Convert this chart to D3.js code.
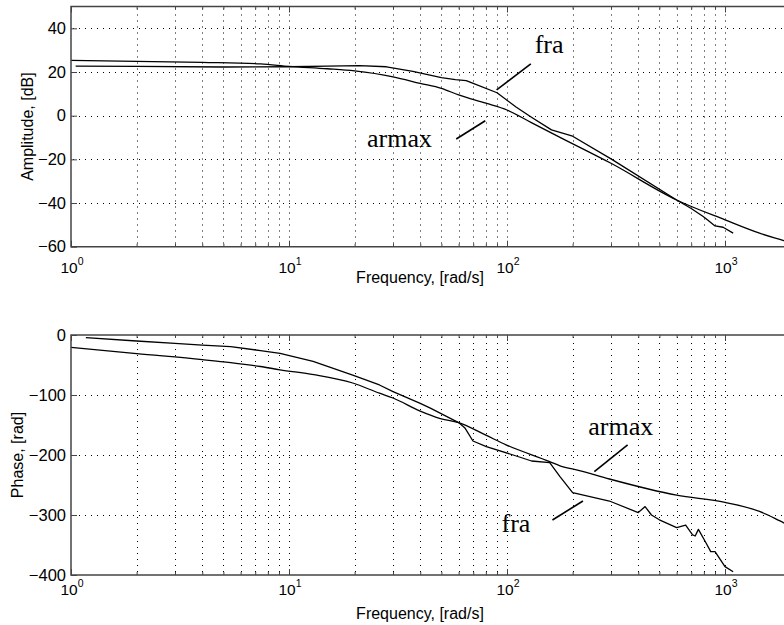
<!DOCTYPE html>
<html>
<head>
<meta charset="utf-8">
<script src="https://cdn.jsdelivr.net/npm/d3@7"></script>
<style>
  body { margin: 0; background: #fff; overflow: hidden; }
  svg { display: block; }
</style>
</head>
<body>
<svg id="chart"></svg>
<script>
// Amplitude panel, values in dB
const ampArmaxFreq = [1, 2, 4, 7.4, 10, 15, 20, 30, 40, 50, 60, 80, 100, 130, 175, 300, 600, 1000, 1440, 1860, 2200];
const ampArmax     = [25.3, 24.9, 24.4, 23.7, 22.6, 21.5, 20.5, 17.8, 14.8, 12.5, 9.5, 5.7, 2.6, -3.3, -9.9, -21.8, -38.6, -47.7, -53.8, -57.2, -59.5];
const ampFraFreq = [1.05, 2, 5, 10, 15, 21, 28, 37, 50, 58, 65, 70, 90, 110, 130, 160, 200, 300, 600, 700, 794, 830, 900, 980, 1090];
const ampFra     = [22.7, 22.6, 22.3, 22.4, 22.7, 22.9, 22.4, 20.3, 17.4, 16.5, 16.1, 14.8, 10.5, 4.0, -0.8, -6.5, -9.4, -19.8, -38.6, -42.5, -46.2, -47.7, -50.5, -51.1, -53.8];

// Phase panel, values as labelled on the axis
const phArmaxFreq = [1, 2, 4, 5.4, 7.4, 9.1, 13, 19.6, 26, 30, 40, 49, 60, 80, 99, 157, 175, 215, 295, 600, 1000, 1440, 1860, 2200];
const phArmax     = [-20.5, -31, -41, -46, -52.5, -58, -66, -80, -97, -105, -127, -139, -146, -167, -183, -211, -218, -226, -240, -267, -279, -294, -313, -325];
const phFraFreq = [1.17, 2, 3, 4, 5.4, 7.4, 9.1, 12.9, 19.6, 26, 30, 40, 44.5, 60, 64.3, 69.8, 80.4, 106.7, 129.7, 157, 175, 200, 295, 400, 430, 460, 500, 600, 660, 710, 730, 755, 820, 860, 900, 1000, 1090];
const phFra     = [-4.5, -10, -14, -17, -19.5, -26, -30.6, -44, -66.7, -83.3, -94.4, -114, -122, -146, -155.6, -176.7, -186, -200, -210, -212.8, -236, -262.8, -276.7, -296, -286, -300, -308, -321, -316.7, -333, -335, -324, -347, -361, -361, -386, -394.5];

// Axis ticks
const decadeExps = [0, 1, 2, 3];   // labelled decades (the axis runs on past 10^3, out of view)
const ampTicks = [-60, -40, -20, 0, 20, 40];
const phaseTicks = [-400, -300, -200, -100, 0];

// Annotations: text anchor and pointer line, in data units [freq, value]
const ampNotes = [
  { text: 'fra',   at: [134, 28.7],  from: [89.6, 11.8], to: [128.6, 23.7] },
  { text: 'armax', at: [22.8, -14.3], from: [58.5, -10.7], to: [79.5, -2.3] }
];
const phaseNotes = [
  { text: 'armax', at: [236, -166.7], from: [251.6, -227.8], to: [357.5, -183.3] },
  { text: 'fra',   at: [94.4, -327.8], from: [161.6, -308.3], to: [223, -276.7] }
];

const width = 784, height = 625;
const left = 71, right = 71 + 4 * 218;
const sans = '"Liberation Sans", Arial, Helvetica, sans-serif';
const serif = '"Liberation Serif", "Times New Roman", serif';

const svg = d3.select('#chart').attr('width', width).attr('height', height);

const x = d3.scaleLog().domain([1, 1e4]).range([left, right]);

const majors = decadeExps.map(e => Math.pow(10, e));
const minors = [];
decadeExps.forEach(e => {
  d3.range(2, 10).forEach(m => minors.push(m * Math.pow(10, e)));
});

const panels = [
  {
    y: d3.scaleLinear().domain([-60, 50]).range([246.7, 6.5]),
    ticks: ampTicks, label: 'Amplitude, [dB]', labelX: 27,
    xTickY: 273, xTitleY: 283,
    series: [
      { f: ampArmaxFreq, v: ampArmax, curve: d3.curveMonotoneX },
      { f: ampFraFreq, v: ampFra, curve: d3.curveLinear }
    ],
    notes: ampNotes
  },
  {
    y: d3.scaleLinear().domain([-400, 0]).range([575, 335]),
    ticks: phaseTicks, label: 'Phase, [rad]', labelX: 17.5,
    xTickY: 595, xTitleY: 618.5,
    series: [
      { f: phArmaxFreq, v: phArmax, curve: d3.curveMonotoneX },
      { f: phFraFreq, v: phFra, curve: d3.curveLinear }
    ],
    notes: phaseNotes
  }
];

panels.forEach((p, i) => {
  const y = p.y;
  const top = y.range()[1], bottom = y.range()[0];
  const g = svg.append('g');

  // clip for curves
  const clipId = 'clip' + i;
  svg.append('clipPath').attr('id', clipId)
    .append('rect')
    .attr('x', left).attr('y', top)
    .attr('width', right - left).attr('height', bottom - top);

  // dotted grid
  const grid = g.append('g')
    .attr('stroke', '#000')
    .attr('stroke-width', 1)
    .attr('stroke-dasharray', '1,5');

  grid.selectAll('.vx')
    .data(majors.slice(1).concat(minors))
    .join('line')
    .attr('x1', d => Math.round(x(d)) + 0.5).attr('x2', d => Math.round(x(d)) + 0.5)
    .attr('y1', top + 2).attr('y2', bottom);

  grid.selectAll('.hy')
    .data(p.ticks.filter(t => y(t) > top + 1 && y(t) < bottom - 1))
    .join('line')
    .attr('x1', left + 2).attr('x2', right)
    .attr('y1', d => Math.round(y(d)) + 0.5).attr('y2', d => Math.round(y(d)) + 0.5);

  // curves
  const curves = g.append('g').attr('clip-path', `url(#${clipId})`);
  p.series.forEach(s => {
    const pts = s.f.map((f, k) => [f, s.v[k]]);
    curves.append('path')
      .datum(pts)
      .attr('fill', 'none')
      .attr('stroke', '#000')
      .attr('stroke-width', 1.3)
      .attr('stroke-linejoin', 'round')
      .attr('d', d3.line().x(d => x(d[0])).y(d => y(d[1])).curve(s.curve));
  });

  // axes with inward ticks
  const axisColor = '#444';
  const styleAxis = sel => {
    sel.select('.domain').remove();
    sel.selectAll('line').attr('stroke', axisColor);
  };

  g.append('g').attr('transform', `translate(0,${bottom})`)
    .call(d3.axisBottom(x).tickValues(majors).tickSize(-6).tickFormat(''))
    .call(styleAxis);
  g.append('g').attr('transform', `translate(0,${bottom})`)
    .call(d3.axisBottom(x).tickValues(minors).tickSize(-3).tickFormat(''))
    .call(styleAxis);
  g.append('g').attr('transform', `translate(0,${top})`)
    .call(d3.axisTop(x).tickValues(majors).tickSize(-6).tickFormat(''))
    .call(styleAxis);
  g.append('g').attr('transform', `translate(0,${top})`)
    .call(d3.axisTop(x).tickValues(minors).tickSize(-3).tickFormat(''))
    .call(styleAxis);

  const yAxis = g.append('g').attr('transform', `translate(${left},0)`)
    .call(d3.axisLeft(y).tickValues(p.ticks).tickSize(-6).tickPadding(5))
    .call(styleAxis);
  yAxis.selectAll('text')
    .attr('font-family', sans)
    .attr('font-size', 16.5)
    .attr('fill', '#000');

  // frame
  g.append('path')
    .attr('d', `M${right},${top}H${left}V${bottom}H${right}`)
    .attr('fill', 'none')
    .attr('stroke', axisColor)
    .attr('stroke-width', 1.5);

  // decade labels 10^n
  const xl = g.append('g')
    .attr('font-family', sans)
    .attr('font-size', 15.5)
    .attr('fill', '#000');
  majors.forEach((m, k) => {
    const t = xl.append('text')
      .attr('x', x(m) + 1)
      .attr('y', p.xTickY)
      .attr('text-anchor', 'middle');
    t.append('tspan').text('10');
    t.append('tspan')
      .attr('dy', -8)
      .attr('font-size', 10.5)
      .text(decadeExps[k]);
  });

  // axis titles
  g.append('text')
    .attr('x', 420).attr('y', p.xTitleY)
    .attr('text-anchor', 'middle')
    .attr('font-family', sans).attr('font-size', 16)
    .text('Frequency, [rad/s]');

  g.append('text')
    .attr('transform', `translate(${p.labelX},${(top + bottom) / 2}) rotate(-90)`)
    .attr('text-anchor', 'middle')
    .attr('dominant-baseline', 'central')
    .attr('font-family', sans).attr('font-size', 16)
    .text(p.label);

  // annotations
  p.notes.forEach(n => {
    g.append('line')
      .attr('x1', x(n.from[0])).attr('y1', y(n.from[1]))
      .attr('x2', x(n.to[0])).attr('y2', y(n.to[1]))
      .attr('stroke', '#000').attr('stroke-width', 1.6);
    g.append('text')
      .attr('x', x(n.at[0])).attr('y', y(n.at[1]))
      .attr('font-family', serif).attr('font-size', 26)
      .text(n.text);
  });
});
</script>
</body>
</html>
